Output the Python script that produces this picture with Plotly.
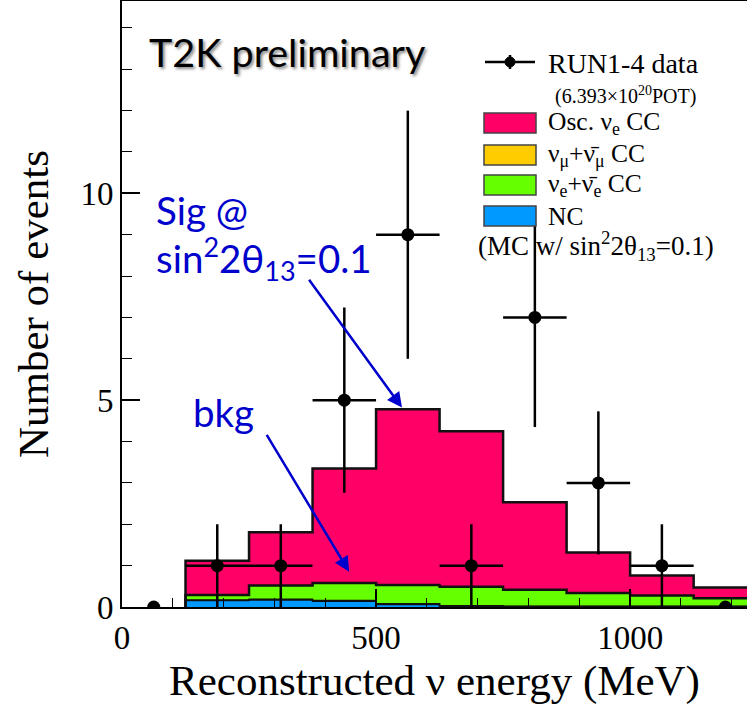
import plotly.graph_objects as go

# ---------------- data ----------------
bin_centers = [187.5, 312.5, 437.5, 562.5, 687.5, 812.5, 937.5, 1062.5, 1187.5]
bin_width = 125
nc_vals   = [0.16, 0.17, 0.14, 0.06, 0.02, 0.01, 0.01, 0.01, 0.01]
numu_vals = [0.01, 0.02, 0.02, 0.02, 0.01, 0.01, 0.01, 0.01, 0.01]
nue_vals  = [0.12, 0.33, 0.42, 0.45, 0.46, 0.40, 0.32, 0.26, 0.19]
osc_vals  = [0.83, 1.29, 2.77, 4.25, 3.76, 2.11, 0.98, 0.48, 0.26]

data_x = [62.5, 187.5, 312.5, 437.5, 562.5, 687.5, 812.5, 937.5, 1062.5, 1187.5]
data_y = [0, 1, 1, 5, 9, 1, 7, 3, 1, 0]
data_err = [0, 1.0, 1.0, 2.24, 3.0, 1.0, 2.65, 1.73, 1.0, 0]
data_xerr = [0, 62.5, 62.5, 62.5, 62.5, 62.5, 62.5, 62.5, 62.5, 0]

PINK = "#FF0066"
ORANGE = "#FFCC00"
GREEN = "#66FF00"
BLUE = "#0099FF"

fig = go.Figure()

layers = [("NC", nc_vals, BLUE), ("numu", numu_vals, ORANGE),
          ("nue", nue_vals, GREEN), ("osc", osc_vals, PINK)]
for name, vals, col in layers:
    fig.add_trace(go.Bar(x=bin_centers, y=vals, width=bin_width, marker_color=col,
                         marker_line_width=0, name=name, showlegend=False))

# step outlines at top of each cumulative layer
cum = [0.0] * len(bin_centers)
lows = [c - bin_width / 2 for c in bin_centers]
for name, vals, col in layers:
    cum = [a + b for a, b in zip(cum, vals)]
    xs = lows + [lows[-1] + bin_width]
    ys = cum + [cum[-1]]
    lw = 2.5 if name in ("nue", "osc") else 1.5
    fig.add_trace(go.Scatter(x=[lows[0]] + xs, y=[0] + ys, mode="lines",
                             line=dict(color="#111", width=lw, shape="hv"),
                             showlegend=False, hoverinfo="skip"))

fig.add_trace(go.Scatter(
    x=data_x, y=data_y, mode="markers",
    marker=dict(color="black", size=13),
    error_y=dict(type="data", array=data_err, color="black", thickness=2.5, width=0),
    error_x=dict(type="data", array=data_xerr, color="black", thickness=2.5, width=0),
    showlegend=False))

# ---------------- layout helpers ----------------
L, R, T, B = 122, 747, 1, 607
def px(x):
    return (x - L) / (R - L)
def py(y):
    return (B - y) / (B - T)

SERIF = "Liberation Serif"
SANS = "Lato"

annotations = []
shapes = []

def text(x, y, s, size, color="black", family=SERIF, anchor="left", shadow=None):
    f = dict(family=family, size=size, color=color)
    if shadow:
        f["shadow"] = shadow
    annotations.append(dict(x=px(x), y=py(y), xref="paper", yref="paper", text=s,
                            showarrow=False, xanchor=anchor, yanchor="middle", font=f))

# header
text(147, 51, "T2K preliminary", 39.5, family=SANS, shadow="2px 2px 3px #888")

# blue annotations
text(154, 210, "Sig @", 38.5, color="#0000CC", family=SANS)
text(154, 258, "sin<sup>2</sup>2θ<sub>13</sub>=0.1", 38.5, color="#0000CC", family=SANS)
text(191, 412, "bkg", 38.5, color="#0000CC", family=SANS)

annotations.append(dict(x=551, y=4.82, ax=366, ay=7.95, xref="x", yref="y",
                        axref="x", ayref="y", showarrow=True, arrowhead=2,
                        arrowsize=1.2, arrowwidth=2.5, arrowcolor="#0000CC", text=""))
annotations.append(dict(x=447, y=0.85, ax=283, ay=4.2, xref="x", yref="y",
                        axref="x", ayref="y", showarrow=True, arrowhead=2,
                        arrowsize=1.2, arrowwidth=2.5, arrowcolor="#0000CC", text=""))

# manual legend
shapes.append(dict(type="line", xref="paper", yref="paper", x0=px(485), x1=px(535),
                   y0=py(62), y1=py(62), line=dict(color="black", width=2.5)))
shapes.append(dict(type="line", xref="paper", yref="paper", x0=px(510), x1=px(510),
                   y0=py(55), y1=py(69), line=dict(color="black", width=2.5)))
shapes.append(dict(type="circle", xref="paper", yref="paper", x0=px(505), x1=px(515),
                   y0=py(67), y1=py(57), fillcolor="black", line=dict(color="black", width=1)))
text(546, 63, "RUN1-4 data", 28)
text(553, 95, "(6.393×10<sup>20</sup>POT)", 20)

leg = [(PINK, 123, "Osc. ν<sub>e</sub> CC"),
       (ORANGE, 155, "ν<sub>μ</sub>+ν̄<sub>μ</sub> CC"),
       (GREEN, 185, "ν<sub>e</sub>+ν̄<sub>e</sub> CC"),
       (BLUE, 216, "NC")]
for col, yc, lab in leg:
    shapes.append(dict(type="rect", xref="paper", yref="paper", x0=px(484), x1=px(536),
                       y0=py(yc + 10), y1=py(yc - 10), fillcolor=col,
                       line=dict(color="#444", width=1.5)))
    text(546, yc, lab, 25.5)
text(476, 246, "(MC w/ sin<sup>2</sup>2θ<sub>13</sub>=0.1)", 27)

fig.update_layout(
    width=747, height=724,
    margin=dict(l=L, r=747 - R, t=T, b=724 - B),
    paper_bgcolor="white", plot_bgcolor="white",
    barmode="stack", bargap=0,
    showlegend=False,
    annotations=annotations, shapes=shapes,
    xaxis=dict(range=[0, 1230], showgrid=False, zeroline=False,
               showline=True, linecolor="black", linewidth=2, mirror=True,
               ticks="inside", ticklen=18, tickwidth=1.5, tickcolor="black",
               dtick=500, tick0=0,
               minor=dict(dtick=100, ticks="inside", ticklen=9, tickcolor="black", tickwidth=1.2),
               tickfont=dict(family=SERIF, size=33, color="black"),
               title=dict(text="Reconstructed ν energy (MeV)", standoff=10,
                          font=dict(family=SERIF, size=43, color="black"))),
    yaxis=dict(range=[0, 14.65], showgrid=False, zeroline=False,
               showline=True, linecolor="black", linewidth=2,
               ticks="inside", ticklen=18, tickwidth=1.5, tickcolor="black",
               dtick=5, tick0=0,
               minor=dict(dtick=1, ticks="inside", ticklen=10, tickcolor="black", tickwidth=1.2),
               tickfont=dict(family=SERIF, size=33, color="black"),
               title=dict(text="Number of events", standoff=18,
                          font=dict(family=SERIF, size=43, color="black"))),
)

fig.write_html("out.html")
